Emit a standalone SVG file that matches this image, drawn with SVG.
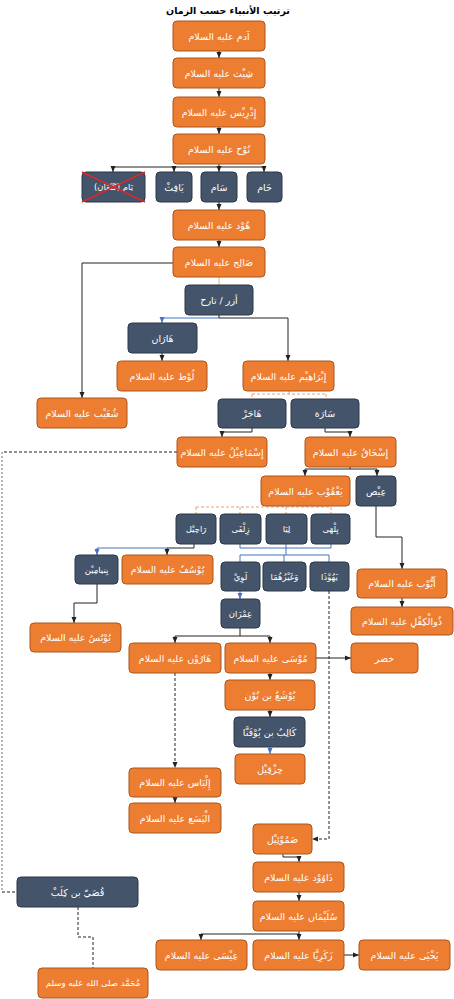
<svg xmlns="http://www.w3.org/2000/svg" width="454" height="999" viewBox="0 0 454 999">
<defs>
<style>
.o{fill:#ED7D31;stroke:#A9571F;stroke-width:1}
.d{fill:#44546A;stroke:#2B3646;stroke-width:1}
.t{fill:#fff;font-family:"DejaVu Sans",sans-serif;font-size:9.5px;text-anchor:middle;dominant-baseline:central;direction:rtl}
.s{font-size:8.5px}
.title{fill:#000;font-family:"DejaVu Sans",sans-serif;font-size:9.5px;font-weight:bold;text-anchor:middle;dominant-baseline:central;direction:rtl}
.c{fill:none;stroke:#222;stroke-width:1}
.ca{fill:none;stroke:#222;stroke-width:1;marker-end:url(#ab)}
.b{fill:none;stroke:#4472C4;stroke-width:1}
.ba{fill:none;stroke:#4472C4;stroke-width:1;marker-end:url(#abl)}
.dash{fill:none;stroke:#222;stroke-width:1;stroke-dasharray:3 2}
.dasha{fill:none;stroke:#222;stroke-width:1;stroke-dasharray:3 2;marker-end:url(#ab)}
.od{fill:none;stroke:#F0A070;stroke-width:1;stroke-dasharray:3 2}
.gd{fill:none;stroke:#A0A0A0;stroke-width:1.5;stroke-dasharray:2 2}
</style>
<marker id="ab" markerUnits="userSpaceOnUse" markerWidth="6" markerHeight="6" viewBox="0 0 6 6" refX="6" refY="3" orient="auto"><path d="M0,0.5 L6,3 L0,5.5 z" fill="#222"/></marker>
<marker id="abl" markerUnits="userSpaceOnUse" markerWidth="6" markerHeight="6" viewBox="0 0 6 6" refX="6" refY="3" orient="auto"><path d="M0,0.5 L6,3 L0,5.5 z" fill="#4472C4"/></marker>
</defs>
<rect width="454" height="999" fill="#fff"/>
<text class="title" x="228" y="10">ترتيب الأنبياء حسب الزمان</text>

<g id="connectors">
<path class="ca" d="M219,51 V58"/>
<path class="ca" d="M219,88 V97"/>
<path class="ca" d="M219,127 V134"/>
<path class="c" d="M219,164 V167 M113,167 H265"/>
<path class="ca" d="M113,167 V172"/>
<path class="ca" d="M174,167 V172"/>
<path class="ca" d="M219,167 V172"/>
<path class="ca" d="M264,167 V172"/>
<path class="ca" d="M219,202 V210"/>
<path class="ca" d="M219,240 V247"/>
<path fill="none" stroke="#CFC06A" stroke-width="1" d="M219,277 V285"/>
<path class="ca" d="M173,263 H82 V398"/>
<path class="c" d="M219,315 V318"/>
<path class="ba" d="M219,318 H162 V323"/>
<path class="ca" d="M219,318 H288 V361"/>
<path class="ca" d="M162,353 V361"/>
<path class="od" d="M289,391 V394 M252,394 H326 M252,394 V399 M326,394 V399"/>
<path class="ca" d="M252,428 V432 H222 V437"/>
<path class="ca" d="M325,428 V432 H350 V437"/>
<path class="c" d="M350,467 V469 M305,469 H377"/>
<path class="ca" d="M305,469 V476"/>
<path class="ca" d="M377,469 V476"/>
<path class="od" d="M305,506 V507 M196,507 H331 M196,507 V514 M240,507 V514 M286,507 V514 M331,507 V514"/>
<path class="c" d="M194,544 V548 H167"/>
<path class="ca" d="M167,548 V555"/>
<path class="ba" d="M167,548 H97 V555"/>
<path class="b" d="M240,544 V548 H331 V544 M286,544 V555 M240,555 H329 M240,555 V562 M284,555 V562 M329,555 V562"/>
<path class="ba" d="M240,591 V599"/>
<path class="ca" d="M97,584 V603 H74 V623"/>
<path class="c" d="M240,628 V636 M175,636 H270"/>
<path class="ca" d="M175,636 V643"/>
<path class="ca" d="M270,636 V643"/>
<path class="ca" d="M316,658 H351"/>
<path class="ca" d="M376,506 V537 H402 V569"/>
<path class="ca" d="M402,598 V607"/>
<path class="ca" d="M270,673 V680"/>
<path class="ca" d="M270,710 V717"/>
<path class="ba" d="M270,747 V754"/>
<path class="dasha" d="M175,673 V768"/>
<path class="ca" d="M175,797 V803"/>
<path class="dasha" d="M329,591 V839 H312"/>
<path class="ca" d="M283,854 V857 H299 V862"/>
<path class="ca" d="M299,892 V901"/>
<path class="c" d="M299,931 V934 H201"/>
<path class="ca" d="M201,934 V940"/>
<path class="ca" d="M299,934 V940"/>
<path class="ca" d="M344,955 H359"/>
<path class="dash" d="M177,452 H2"/>
<path class="gd" d="M2,452 V892"/>
<path class="dash" d="M2,892 H17"/>
<path class="dash" d="M78,907 V937 H93 V968"/>
</g>

<g id="adam"><rect class="o" x="173" y="21" width="92" height="30" rx="4"/><text class="t" x="219" y="36">آدم عليه السلام</text></g>
<g id="sheeth"><rect class="o" x="173" y="58" width="92" height="30" rx="4"/><text class="t" x="219" y="73">شِيْث عليه السلام</text></g>
<g id="idris"><rect class="o" x="173" y="97" width="92" height="30" rx="4"/><text class="t" x="219" y="112">إِدْرِيْس عليه السلام</text></g>
<g id="nuh"><rect class="o" x="173" y="134" width="92" height="30" rx="4"/><text class="t" x="219" y="149">نُوْح عليه السلام</text></g>
<g id="yam"><rect class="d" x="82" y="172" width="63" height="30" rx="4"/><text class="t s" x="113.5" y="187">يَام (كَنْعَان)</text><path d="M82,172 L145,202 M82,202 L145,172" stroke="#E0262B" stroke-width="1.5"/></g>
<g id="yafeth"><rect class="d" x="156" y="172" width="36" height="30" rx="4"/><text class="t" x="174" y="187">يَافِثْ</text></g>
<g id="sam"><rect class="d" x="201" y="172" width="36" height="30" rx="4"/><text class="t" x="219" y="187">سَام</text></g>
<g id="ham"><rect class="d" x="247" y="172" width="35" height="30" rx="4"/><text class="t" x="264.5" y="187">حَام</text></g>
<g id="hud"><rect class="o" x="173" y="210" width="92" height="30" rx="4"/><text class="t" x="219" y="225">هُوْد عليه السلام</text></g>
<g id="saleh"><rect class="o" x="173" y="247" width="92" height="30" rx="4"/><text class="t" x="219" y="262">صَالِح عليه السلام</text></g>
<g id="azar"><rect class="d" x="185" y="285" width="68" height="30" rx="4"/><text class="t" x="219" y="300">أزر / تارح</text></g>
<g id="haran"><rect class="d" x="128" y="323" width="69" height="30" rx="4"/><text class="t" x="162.5" y="338">هَارَان</text></g>
<g id="lut"><rect class="o" x="117" y="361" width="90" height="30" rx="4"/><text class="t" x="162" y="376">لُوْط عليه السلام</text></g>
<g id="ibrahim"><rect class="o" x="243" y="361" width="91" height="30" rx="4"/><text class="t" x="288.5" y="376">إِبْرَاهِيْم عليه السلام</text></g>
<g id="shuaib"><rect class="o" x="37" y="398" width="90" height="30" rx="4"/><text class="t" x="82" y="413">شُعَيْب عليه السلام</text></g>
<g id="hajar"><rect class="d" x="218" y="399" width="68" height="29" rx="4"/><text class="t" x="252" y="413.5">هَاجَرْ</text></g>
<g id="sara"><rect class="d" x="291" y="399" width="68" height="29" rx="4"/><text class="t" x="325" y="413.5">سَارَة</text></g>
<g id="ismail"><rect class="o" x="177" y="437" width="90" height="30" rx="4"/><text class="t" x="222" y="452">إِسْمَاعِيْلُ عليه السلام</text></g>
<g id="ishaq"><rect class="o" x="305" y="437" width="91" height="30" rx="4"/><text class="t" x="350.5" y="452">إِسْحَاقُ عليه السلام</text></g>
<g id="yaqub"><rect class="o" x="261" y="476" width="89" height="30" rx="4"/><text class="t" x="305.5" y="491">يَعْقُوْب عليه السلام</text></g>
<g id="ees"><rect class="d" x="356" y="476" width="40" height="30" rx="4"/><text class="t" x="376" y="491">عِيْص</text></g>
<g id="rahil"><rect class="d" x="176" y="514" width="40" height="30" rx="4"/><text class="t s" x="196" y="529">رَاحِيْل</text></g>
<g id="zilfa"><rect class="d" x="220" y="514" width="41" height="30" rx="4"/><text class="t s" x="240.5" y="529">زِلْفَى</text></g>
<g id="liya"><rect class="d" x="266" y="514" width="41" height="30" rx="4"/><text class="t s" x="286.5" y="529">لِيَا</text></g>
<g id="bilha"><rect class="d" x="311" y="514" width="39" height="30" rx="4"/><text class="t s" x="330.5" y="529">بِلْهَى</text></g>
<g id="binyamin"><rect class="d" x="75" y="555" width="43" height="29" rx="4"/><text class="t s" x="96.5" y="569.5">بِنيامِيْن</text></g>
<g id="yusuf"><rect class="o" x="122" y="555" width="91" height="29" rx="4"/><text class="t" x="167.5" y="569.5">يُوْسُفُ عليه السلام</text></g>
<g id="lawi"><rect class="d" x="221" y="562" width="39" height="29" rx="4"/><text class="t s" x="240.5" y="576.5">لَوِيْ</text></g>
<g id="waghayruhuma"><rect class="d" x="263" y="562" width="43" height="29" rx="4"/><text class="t s" x="284.5" y="576.5">وَغَيْرُهُمَا</text></g>
<g id="yahuda"><rect class="d" x="310" y="562" width="39" height="29" rx="4"/><text class="t s" x="329.5" y="576.5">يَهُوْذَا</text></g>
<g id="yunus"><rect class="o" x="30" y="623" width="91" height="29" rx="4"/><text class="t" x="75.5" y="637.5">يُوْنُسُ عليه السلام</text></g>
<g id="imran"><rect class="d" x="221" y="599" width="39" height="29" rx="4"/><text class="t s" x="240.5" y="613.5">عِمْرَان</text></g>
<g id="harun"><rect class="o" x="129" y="643" width="92" height="30" rx="4"/><text class="t" x="175" y="658">هَارُوْن عليه السلام</text></g>
<g id="musa"><rect class="o" x="225" y="643" width="91" height="30" rx="4"/><text class="t" x="270.5" y="658">مُوْسَى عليه السلام</text></g>
<g id="khidr"><rect class="o" x="351" y="643" width="67" height="30" rx="4"/><text class="t" x="384.5" y="658">خضر</text></g>
<g id="ayyub"><rect class="o" x="357" y="569" width="90" height="29" rx="4"/><text class="t" x="402" y="583.5">أَيُّوْب عليه السلام</text></g>
<g id="dhulkifl"><rect class="o" x="351" y="607" width="102" height="28" rx="4"/><text class="t" x="402" y="621">ذُوالْكِفْلِ عليه السلام</text></g>
<g id="yusha"><rect class="o" x="225" y="680" width="90" height="30" rx="4"/><text class="t" x="270" y="695">يُوْشَعُ بن نُوْن</text></g>
<g id="kalib"><rect class="d" x="234" y="717" width="71" height="30" rx="4"/><text class="t" x="269.5" y="732">كَالِبُ بن يُوْفَنَّا</text></g>
<g id="hizqil"><rect class="o" x="235" y="754" width="70" height="30" rx="4"/><text class="t" x="270" y="769">حِزْقِيْل</text></g>
<g id="ilyas"><rect class="o" x="129" y="768" width="92" height="29" rx="4"/><text class="t" x="175" y="782.5">إِلْيَاس عليه السلام</text></g>
<g id="alyasa"><rect class="o" x="129" y="803" width="92" height="30" rx="4"/><text class="t" x="175" y="818">الْيَسَع عليه السلام</text></g>
<g id="samuel"><rect class="o" x="253" y="824" width="59" height="30" rx="4"/><text class="t" x="282.5" y="839">صَمُوْئِيْل</text></g>
<g id="dawud"><rect class="o" x="253" y="862" width="91" height="30" rx="4"/><text class="t" x="298.5" y="877">دَاوُوْد عليه السلام</text></g>
<g id="sulayman"><rect class="o" x="253" y="901" width="91" height="30" rx="4"/><text class="t" x="298.5" y="916">سُلَيْمَان عليه السلام</text></g>
<g id="isa"><rect class="o" x="156" y="940" width="91" height="30" rx="4"/><text class="t" x="201.5" y="955">عِيْسَى عليه السلام</text></g>
<g id="zakariya"><rect class="o" x="253" y="940" width="91" height="30" rx="4"/><text class="t" x="298.5" y="955">زَكَرِيَّا عليه السلام</text></g>
<g id="yahya"><rect class="o" x="359" y="940" width="91" height="30" rx="4"/><text class="t" x="404.5" y="955">يَحْيَى عليه السلام</text></g>
<g id="qusay"><rect class="d" x="17" y="877" width="121" height="30" rx="4"/><text class="t" x="77.5" y="892">قُصَيّ بن كِلَبْ</text></g>
<g id="muhammad"><rect class="o" x="38" y="968" width="110" height="30" rx="4"/><text class="t s" x="93" y="983">مُحَمَّد صلى الله عليه وسلم</text></g>
</svg>
